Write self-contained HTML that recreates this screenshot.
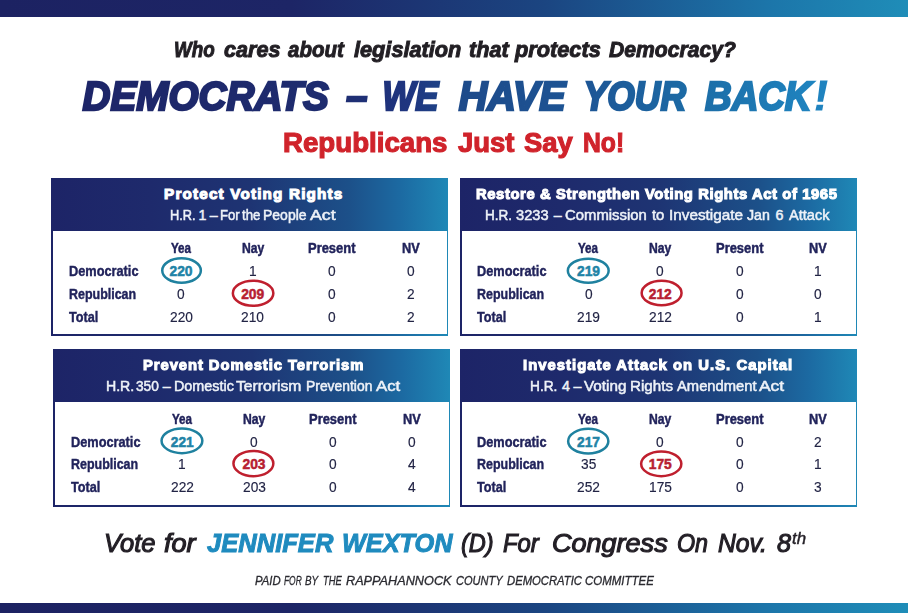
<!DOCTYPE html>
<html><head><meta charset="utf-8"><style>
html,body{margin:0;padding:0;}
body{width:908px;height:613px;position:relative;overflow:hidden;background:#fff;font-family:"Liberation Sans",sans-serif;}
.t{position:absolute;white-space:nowrap;line-height:1;transform-origin:0 0;}
.bar{position:absolute;left:0;width:908px;background:linear-gradient(90deg,#1c2262 0%,#1d2566 32%,#1b4581 60%,#1c76aa 85%,#1f8db8 100%);}
.hd{position:absolute;background:linear-gradient(90deg,#1d2467 0%,#1e2a6c 25%,#1e3473 50%,#1c5089 75%,#1c6aa2 88%,#1f88b6 100%);}
.bd{position:absolute;background:linear-gradient(90deg,#1d2467 0%,#1e2a6c 25%,#1e3473 50%,#1c5089 75%,#1c6aa2 88%,#1f88b6 100%);}
.bd i{position:absolute;left:1.5px;right:1.5px;top:0;bottom:1.5px;background:#fff;}
</style></head><body>
<div class="bar" style="top:0;height:16.5px"></div>
<div class="bar" style="top:602.5px;height:10.5px"></div>
<div class="t" style="left:173.50px;top:38.70px;font-size:22.38px;font-weight:700;font-style:italic;color:#221f24;transform:scaleX(0.8399);-webkit-text-stroke:1.0px #221f24;">Who</div>
<div class="t" style="left:223.70px;top:38.70px;font-size:22.38px;font-weight:700;font-style:italic;color:#221f24;transform:scaleX(0.9653);-webkit-text-stroke:1.0px #221f24;">cares</div>
<div class="t" style="left:287.60px;top:38.70px;font-size:22.38px;font-weight:700;font-style:italic;color:#221f24;transform:scaleX(0.9145);-webkit-text-stroke:1.0px #221f24;">about</div>
<div class="t" style="left:354.00px;top:38.70px;font-size:22.38px;font-weight:700;font-style:italic;color:#221f24;transform:scaleX(0.9703);-webkit-text-stroke:1.0px #221f24;">legislation</div>
<div class="t" style="left:469.40px;top:38.70px;font-size:22.38px;font-weight:700;font-style:italic;color:#221f24;transform:scaleX(0.9652);-webkit-text-stroke:1.0px #221f24;">that</div>
<div class="t" style="left:514.84px;top:38.70px;font-size:22.38px;font-weight:700;font-style:italic;color:#221f24;transform:scaleX(0.9712);-webkit-text-stroke:1.0px #221f24;">protects</div>
<div class="t" style="left:608.70px;top:38.70px;font-size:22.38px;font-weight:700;font-style:italic;color:#221f24;transform:scaleX(0.9448);-webkit-text-stroke:1.0px #221f24;">Democracy?</div>
<div class="t" style="left:73.20px;top:76.00px;font-size:40.70px;font-weight:700;font-style:italic;padding:0 10px;background:linear-gradient(90deg,#1d2568 9.3px,#1e2c6f 270.2px,#1f3580 354.4px,#1d4a8a 407.0px,#1d5595 538.5px,#1c6ea8 664.7px,#1f86c2 792.0px);-webkit-background-clip:text;background-clip:text;color:transparent;transform:scaleX(0.9505);-webkit-text-stroke:2.4px transparent;">DEMOCRATS</div>
<div class="t" style="left:336.56px;top:76.00px;font-size:40.70px;font-weight:700;font-style:italic;padding:0 10px;background:linear-gradient(90deg,#1d2568 -272.5px,#1e2c6f -7.0px,#1f3580 78.6px,#1d4a8a 132.1px,#1d5595 266.0px,#1c6ea8 394.4px,#1f86c2 523.9px);-webkit-background-clip:text;background-clip:text;color:transparent;transform:scaleX(0.9342);-webkit-text-stroke:2.4px transparent;">–</div>
<div class="t" style="left:374.39px;top:76.00px;font-size:40.70px;font-weight:700;font-style:italic;padding:0 10px;background:linear-gradient(90deg,#1d2568 -343.6px,#1e2c6f -52.2px,#1f3580 41.8px,#1d4a8a 100.6px,#1d5595 247.5px,#1c6ea8 388.5px,#1f86c2 530.7px);-webkit-background-clip:text;background-clip:text;color:transparent;transform:scaleX(0.8510);-webkit-text-stroke:2.4px transparent;">WE</div>
<div class="t" style="left:449.18px;top:76.00px;font-size:40.70px;font-weight:700;font-style:italic;padding:0 10px;background:linear-gradient(90deg,#1d2568 -377.7px,#1e2c6f -122.6px,#1f3580 -40.3px,#1d4a8a 11.1px,#1d5595 139.7px,#1c6ea8 263.2px,#1f86c2 387.7px);-webkit-background-clip:text;background-clip:text;color:transparent;transform:scaleX(0.9721);-webkit-text-stroke:2.4px transparent;">HAVE</div>
<div class="t" style="left:574.90px;top:76.00px;font-size:40.70px;font-weight:700;font-style:italic;padding:0 10px;background:linear-gradient(90deg,#1d2568 -566.7px,#1e2c6f -281.6px,#1f3580 -189.6px,#1d4a8a -132.1px,#1d5595 11.6px,#1c6ea8 149.6px,#1f86c2 288.7px);-webkit-background-clip:text;background-clip:text;color:transparent;transform:scaleX(0.8698);-webkit-text-stroke:2.4px transparent;">YOUR</div>
<div class="t" style="left:696.35px;top:76.00px;font-size:40.70px;font-weight:700;font-style:italic;padding:0 10px;background:linear-gradient(90deg,#1d2568 -678.5px,#1e2c6f -404.6px,#1f3580 -316.3px,#1d4a8a -261.0px,#1d5595 -123.0px,#1c6ea8 9.6px,#1f86c2 143.2px);-webkit-background-clip:text;background-clip:text;color:transparent;transform:scaleX(0.9054);-webkit-text-stroke:2.4px transparent;">BACK</div>
<div class="t" style="left:282.75px;top:129.75px;font-size:26.89px;font-weight:700;color:#d0232b;transform:scaleX(1.0290);-webkit-text-stroke:1.1px #d0232b;">Republicans</div>
<div class="t" style="left:457.85px;top:129.75px;font-size:26.89px;font-weight:700;color:#d0232b;transform:scaleX(1.0207);-webkit-text-stroke:1.1px #d0232b;">Just</div>
<div class="t" style="left:523.95px;top:129.75px;font-size:26.89px;font-weight:700;color:#d0232b;transform:scaleX(1.0196);-webkit-text-stroke:1.1px #d0232b;">Say</div>
<div class="t" style="left:582.95px;top:129.75px;font-size:26.89px;font-weight:700;color:#d0232b;transform:scaleX(0.9202);-webkit-text-stroke:1.1px #d0232b;">No!</div>
<div class="bd" style="left:51px;top:231.4px;width:397.0px;height:104.4px"><i></i></div>
<div class="hd" style="left:51px;top:178px;width:397px;height:53.4px"></div>
<div class="t" style="left:164.05px;top:186.35px;font-size:15.26px;font-weight:700;color:#ffffff;letter-spacing:1.175px;-webkit-text-stroke:1.1px #ffffff;">Protect Voting Rights</div>
<div class="t" style="left:169.55px;top:207.95px;font-size:14.24px;font-weight:400;color:#eef2f8;transform:scaleX(0.8986);-webkit-text-stroke:0.5px #eef2f8;">H.R.</div>
<div class="t" style="left:198.55px;top:207.95px;font-size:14.24px;font-weight:400;color:#eef2f8;-webkit-text-stroke:0.5px #eef2f8;">1</div>
<div class="t" style="left:209.86px;top:207.95px;font-size:14.24px;font-weight:400;color:#eef2f8;-webkit-text-stroke:0.5px #eef2f8;">–</div>
<div class="t" style="left:220.05px;top:207.95px;font-size:14.24px;font-weight:400;color:#eef2f8;transform:scaleX(0.9220);-webkit-text-stroke:0.5px #eef2f8;">For</div>
<div class="t" style="left:241.85px;top:207.95px;font-size:14.24px;font-weight:400;color:#eef2f8;transform:scaleX(0.9293);-webkit-text-stroke:0.5px #eef2f8;">the</div>
<div class="t" style="left:262.65px;top:207.95px;font-size:14.24px;font-weight:400;color:#eef2f8;transform:scaleX(0.9826);-webkit-text-stroke:0.5px #eef2f8;">People</div>
<div class="t" style="left:310.25px;top:207.95px;font-size:14.24px;font-weight:400;color:#eef2f8;transform:scaleX(1.2486);-webkit-text-stroke:0.5px #eef2f8;">Act</div>
<div class="t" style="left:170.93px;top:240.78px;font-size:14.03px;font-weight:700;color:#21235b;transform:scaleX(0.8280);-webkit-text-stroke:0.45px #21235b;">Yea</div>
<div class="t" style="left:241.52px;top:240.78px;font-size:14.03px;font-weight:700;color:#21235b;transform:scaleX(0.8684);-webkit-text-stroke:0.45px #21235b;">Nay</div>
<div class="t" style="left:307.93px;top:240.78px;font-size:14.03px;font-weight:700;color:#21235b;transform:scaleX(0.9237);-webkit-text-stroke:0.45px #21235b;">Present</div>
<div class="t" style="left:401.93px;top:240.78px;font-size:14.03px;font-weight:700;color:#21235b;transform:scaleX(0.9104);-webkit-text-stroke:0.45px #21235b;">NV</div>
<div class="t" style="left:69.45px;top:263.80px;font-size:14.24px;font-weight:700;color:#21235b;transform:scaleX(0.8961);-webkit-text-stroke:0.4px #21235b;">Democratic</div>
<div class="t" style="left:169.47px;top:264.75px;font-size:13.81px;font-weight:700;color:#2183a6;-webkit-text-stroke:0.5px #2183a6;">220</div>
<div class="t" style="left:248.89px;top:263.93px;font-size:14.46px;font-weight:400;color:#222445;transform:scaleX(0.9500);-webkit-text-stroke:0.15px #222445;">1</div>
<div class="t" style="left:327.89px;top:263.93px;font-size:14.46px;font-weight:400;color:#222445;transform:scaleX(0.9500);-webkit-text-stroke:0.15px #222445;">0</div>
<div class="t" style="left:406.99px;top:263.93px;font-size:14.46px;font-weight:400;color:#222445;transform:scaleX(0.9500);-webkit-text-stroke:0.15px #222445;">0</div>
<div class="t" style="left:69.45px;top:286.80px;font-size:14.24px;font-weight:700;color:#21235b;transform:scaleX(0.8753);-webkit-text-stroke:0.4px #21235b;">Republican</div>
<div class="t" style="left:177.19px;top:286.93px;font-size:14.46px;font-weight:400;color:#222445;transform:scaleX(0.9500);-webkit-text-stroke:0.15px #222445;">0</div>
<div class="t" style="left:241.17px;top:287.75px;font-size:13.81px;font-weight:700;color:#b71e31;-webkit-text-stroke:0.5px #b71e31;">209</div>
<div class="t" style="left:327.89px;top:286.93px;font-size:14.46px;font-weight:400;color:#222445;transform:scaleX(0.9500);-webkit-text-stroke:0.15px #222445;">0</div>
<div class="t" style="left:406.99px;top:286.93px;font-size:14.46px;font-weight:400;color:#222445;transform:scaleX(0.9500);-webkit-text-stroke:0.15px #222445;">2</div>
<div class="t" style="left:69.45px;top:309.80px;font-size:14.24px;font-weight:700;color:#21235b;transform:scaleX(0.8885);-webkit-text-stroke:0.4px #21235b;">Total</div>
<div class="t" style="left:169.53px;top:309.93px;font-size:14.46px;font-weight:400;color:#222445;transform:scaleX(0.9500);-webkit-text-stroke:0.15px #222445;">220</div>
<div class="t" style="left:241.23px;top:309.93px;font-size:14.46px;font-weight:400;color:#222445;transform:scaleX(0.9500);-webkit-text-stroke:0.15px #222445;">210</div>
<div class="t" style="left:327.89px;top:309.93px;font-size:14.46px;font-weight:400;color:#222445;transform:scaleX(0.9500);-webkit-text-stroke:0.15px #222445;">0</div>
<div class="t" style="left:406.99px;top:309.93px;font-size:14.46px;font-weight:400;color:#222445;transform:scaleX(0.9500);-webkit-text-stroke:0.15px #222445;">2</div>
<div class="bd" style="left:460px;top:231.4px;width:397.0px;height:104.4px"><i></i></div>
<div class="hd" style="left:460px;top:178px;width:397px;height:53.4px"></div>
<div class="t" style="left:476.45px;top:186.35px;font-size:15.26px;font-weight:700;color:#ffffff;transform:scaleX(0.9700);letter-spacing:0.624px;-webkit-text-stroke:1.1px #ffffff;">Restore &amp; Strengthen Voting Rights Act of 1965</div>
<div class="t" style="left:485.15px;top:207.95px;font-size:14.24px;font-weight:400;color:#eef2f8;transform:scaleX(0.9478);-webkit-text-stroke:0.5px #eef2f8;">H.R.</div>
<div class="t" style="left:516.25px;top:207.95px;font-size:14.24px;font-weight:400;color:#eef2f8;transform:scaleX(1.0286);-webkit-text-stroke:0.5px #eef2f8;">3233</div>
<div class="t" style="left:553.76px;top:207.95px;font-size:14.24px;font-weight:400;color:#eef2f8;-webkit-text-stroke:0.5px #eef2f8;">–</div>
<div class="t" style="left:565.15px;top:207.95px;font-size:14.24px;font-weight:400;color:#eef2f8;transform:scaleX(1.0441);-webkit-text-stroke:0.5px #eef2f8;">Commission</div>
<div class="t" style="left:651.85px;top:207.95px;font-size:14.24px;font-weight:400;color:#eef2f8;transform:scaleX(1.0426);-webkit-text-stroke:0.5px #eef2f8;">to</div>
<div class="t" style="left:668.65px;top:207.95px;font-size:14.24px;font-weight:400;color:#eef2f8;transform:scaleX(1.0759);-webkit-text-stroke:0.5px #eef2f8;">Investigate</div>
<div class="t" style="left:747.05px;top:207.95px;font-size:14.24px;font-weight:400;color:#eef2f8;transform:scaleX(0.9986);-webkit-text-stroke:0.5px #eef2f8;">Jan</div>
<div class="t" style="left:775.50px;top:207.95px;font-size:14.24px;font-weight:400;color:#eef2f8;-webkit-text-stroke:0.5px #eef2f8;">6</div>
<div class="t" style="left:788.95px;top:207.95px;font-size:14.24px;font-weight:400;color:#eef2f8;transform:scaleX(1.0234);-webkit-text-stroke:0.5px #eef2f8;">Attack</div>
<div class="t" style="left:578.42px;top:240.78px;font-size:14.03px;font-weight:700;color:#21235b;transform:scaleX(0.8280);-webkit-text-stroke:0.45px #21235b;">Yea</div>
<div class="t" style="left:649.12px;top:240.78px;font-size:14.03px;font-weight:700;color:#21235b;transform:scaleX(0.8684);-webkit-text-stroke:0.45px #21235b;">Nay</div>
<div class="t" style="left:715.73px;top:240.78px;font-size:14.03px;font-weight:700;color:#21235b;transform:scaleX(0.9237);-webkit-text-stroke:0.45px #21235b;">Present</div>
<div class="t" style="left:809.23px;top:240.78px;font-size:14.03px;font-weight:700;color:#21235b;transform:scaleX(0.9104);-webkit-text-stroke:0.45px #21235b;">NV</div>
<div class="t" style="left:477.20px;top:263.80px;font-size:14.24px;font-weight:700;color:#21235b;transform:scaleX(0.8961);-webkit-text-stroke:0.4px #21235b;">Democratic</div>
<div class="t" style="left:576.97px;top:264.75px;font-size:13.81px;font-weight:700;color:#2183a6;-webkit-text-stroke:0.5px #2183a6;">219</div>
<div class="t" style="left:656.49px;top:263.93px;font-size:14.46px;font-weight:400;color:#222445;transform:scaleX(0.9500);-webkit-text-stroke:0.15px #222445;">0</div>
<div class="t" style="left:735.69px;top:263.93px;font-size:14.46px;font-weight:400;color:#222445;transform:scaleX(0.9500);-webkit-text-stroke:0.15px #222445;">0</div>
<div class="t" style="left:814.29px;top:263.93px;font-size:14.46px;font-weight:400;color:#222445;transform:scaleX(0.9500);-webkit-text-stroke:0.15px #222445;">1</div>
<div class="t" style="left:477.20px;top:286.80px;font-size:14.24px;font-weight:700;color:#21235b;transform:scaleX(0.8753);-webkit-text-stroke:0.4px #21235b;">Republican</div>
<div class="t" style="left:584.69px;top:286.93px;font-size:14.46px;font-weight:400;color:#222445;transform:scaleX(0.9500);-webkit-text-stroke:0.15px #222445;">0</div>
<div class="t" style="left:648.77px;top:287.75px;font-size:13.81px;font-weight:700;color:#b71e31;-webkit-text-stroke:0.5px #b71e31;">212</div>
<div class="t" style="left:735.69px;top:286.93px;font-size:14.46px;font-weight:400;color:#222445;transform:scaleX(0.9500);-webkit-text-stroke:0.15px #222445;">0</div>
<div class="t" style="left:814.29px;top:286.93px;font-size:14.46px;font-weight:400;color:#222445;transform:scaleX(0.9500);-webkit-text-stroke:0.15px #222445;">0</div>
<div class="t" style="left:477.20px;top:309.80px;font-size:14.24px;font-weight:700;color:#21235b;transform:scaleX(0.8885);-webkit-text-stroke:0.4px #21235b;">Total</div>
<div class="t" style="left:577.03px;top:309.93px;font-size:14.46px;font-weight:400;color:#222445;transform:scaleX(0.9500);-webkit-text-stroke:0.15px #222445;">219</div>
<div class="t" style="left:648.83px;top:309.93px;font-size:14.46px;font-weight:400;color:#222445;transform:scaleX(0.9500);-webkit-text-stroke:0.15px #222445;">212</div>
<div class="t" style="left:735.69px;top:309.93px;font-size:14.46px;font-weight:400;color:#222445;transform:scaleX(0.9500);-webkit-text-stroke:0.15px #222445;">0</div>
<div class="t" style="left:814.29px;top:309.93px;font-size:14.46px;font-weight:400;color:#222445;transform:scaleX(0.9500);-webkit-text-stroke:0.15px #222445;">1</div>
<div class="bd" style="left:53px;top:401.5px;width:397.0px;height:105.0px"><i></i></div>
<div class="hd" style="left:53px;top:349px;width:397px;height:52.5px"></div>
<div class="t" style="left:142.75px;top:357.35px;font-size:15.26px;font-weight:700;color:#ffffff;transform:scaleX(0.9700);letter-spacing:0.961px;-webkit-text-stroke:1.1px #ffffff;">Prevent Domestic Terrorism</div>
<div class="t" style="left:105.75px;top:378.95px;font-size:14.24px;font-weight:400;color:#eef2f8;transform:scaleX(0.9899);-webkit-text-stroke:0.5px #eef2f8;">H.R.</div>
<div class="t" style="left:135.65px;top:378.95px;font-size:14.24px;font-weight:400;color:#eef2f8;transform:scaleX(0.9627);-webkit-text-stroke:0.5px #eef2f8;">350</div>
<div class="t" style="left:162.81px;top:378.95px;font-size:14.24px;font-weight:400;color:#eef2f8;-webkit-text-stroke:0.5px #eef2f8;">–</div>
<div class="t" style="left:173.55px;top:378.95px;font-size:14.24px;font-weight:400;color:#eef2f8;transform:scaleX(1.0084);-webkit-text-stroke:0.5px #eef2f8;">Domestic</div>
<div class="t" style="left:236.45px;top:378.95px;font-size:14.24px;font-weight:400;color:#eef2f8;transform:scaleX(1.1024);-webkit-text-stroke:0.5px #eef2f8;">Terrorism</div>
<div class="t" style="left:305.85px;top:378.95px;font-size:14.24px;font-weight:400;color:#eef2f8;transform:scaleX(0.9752);-webkit-text-stroke:0.5px #eef2f8;">Prevention</div>
<div class="t" style="left:376.25px;top:378.95px;font-size:14.24px;font-weight:400;color:#eef2f8;transform:scaleX(1.1806);-webkit-text-stroke:0.5px #eef2f8;">Act</div>
<div class="t" style="left:172.23px;top:411.77px;font-size:14.03px;font-weight:700;color:#21235b;transform:scaleX(0.8280);-webkit-text-stroke:0.45px #21235b;">Yea</div>
<div class="t" style="left:242.82px;top:411.77px;font-size:14.03px;font-weight:700;color:#21235b;transform:scaleX(0.8684);-webkit-text-stroke:0.45px #21235b;">Nay</div>
<div class="t" style="left:309.23px;top:411.77px;font-size:14.03px;font-weight:700;color:#21235b;transform:scaleX(0.9237);-webkit-text-stroke:0.45px #21235b;">Present</div>
<div class="t" style="left:402.93px;top:411.77px;font-size:14.03px;font-weight:700;color:#21235b;transform:scaleX(0.9104);-webkit-text-stroke:0.45px #21235b;">NV</div>
<div class="t" style="left:70.60px;top:434.80px;font-size:14.24px;font-weight:700;color:#21235b;transform:scaleX(0.8961);-webkit-text-stroke:0.4px #21235b;">Democratic</div>
<div class="t" style="left:170.77px;top:435.75px;font-size:13.81px;font-weight:700;color:#2183a6;-webkit-text-stroke:0.5px #2183a6;">221</div>
<div class="t" style="left:250.19px;top:434.93px;font-size:14.46px;font-weight:400;color:#222445;transform:scaleX(0.9500);-webkit-text-stroke:0.15px #222445;">0</div>
<div class="t" style="left:329.19px;top:434.93px;font-size:14.46px;font-weight:400;color:#222445;transform:scaleX(0.9500);-webkit-text-stroke:0.15px #222445;">0</div>
<div class="t" style="left:407.99px;top:434.93px;font-size:14.46px;font-weight:400;color:#222445;transform:scaleX(0.9500);-webkit-text-stroke:0.15px #222445;">0</div>
<div class="t" style="left:70.60px;top:456.80px;font-size:14.24px;font-weight:700;color:#21235b;transform:scaleX(0.8753);-webkit-text-stroke:0.4px #21235b;">Republican</div>
<div class="t" style="left:178.49px;top:456.93px;font-size:14.46px;font-weight:400;color:#222445;transform:scaleX(0.9500);-webkit-text-stroke:0.15px #222445;">1</div>
<div class="t" style="left:242.47px;top:457.75px;font-size:13.81px;font-weight:700;color:#b71e31;-webkit-text-stroke:0.5px #b71e31;">203</div>
<div class="t" style="left:329.19px;top:456.93px;font-size:14.46px;font-weight:400;color:#222445;transform:scaleX(0.9500);-webkit-text-stroke:0.15px #222445;">0</div>
<div class="t" style="left:407.99px;top:456.93px;font-size:14.46px;font-weight:400;color:#222445;transform:scaleX(0.9500);-webkit-text-stroke:0.15px #222445;">4</div>
<div class="t" style="left:70.60px;top:479.60px;font-size:14.24px;font-weight:700;color:#21235b;transform:scaleX(0.8885);-webkit-text-stroke:0.4px #21235b;">Total</div>
<div class="t" style="left:170.83px;top:479.73px;font-size:14.46px;font-weight:400;color:#222445;transform:scaleX(0.9500);-webkit-text-stroke:0.15px #222445;">222</div>
<div class="t" style="left:242.53px;top:479.73px;font-size:14.46px;font-weight:400;color:#222445;transform:scaleX(0.9500);-webkit-text-stroke:0.15px #222445;">203</div>
<div class="t" style="left:329.19px;top:479.73px;font-size:14.46px;font-weight:400;color:#222445;transform:scaleX(0.9500);-webkit-text-stroke:0.15px #222445;">0</div>
<div class="t" style="left:407.99px;top:479.73px;font-size:14.46px;font-weight:400;color:#222445;transform:scaleX(0.9500);-webkit-text-stroke:0.15px #222445;">4</div>
<div class="bd" style="left:460px;top:401.5px;width:397.0px;height:105.0px"><i></i></div>
<div class="hd" style="left:460px;top:349px;width:397px;height:52.5px"></div>
<div class="t" style="left:522.75px;top:357.35px;font-size:15.26px;font-weight:700;color:#ffffff;transform:scaleX(0.9700);letter-spacing:1.077px;-webkit-text-stroke:1.1px #ffffff;">Investigate Attack on U.S. Capital</div>
<div class="t" style="left:530.45px;top:378.95px;font-size:14.24px;font-weight:400;color:#eef2f8;transform:scaleX(0.9618);-webkit-text-stroke:0.5px #eef2f8;">H.R.</div>
<div class="t" style="left:561.90px;top:378.95px;font-size:14.24px;font-weight:400;color:#eef2f8;-webkit-text-stroke:0.5px #eef2f8;">4</div>
<div class="t" style="left:573.46px;top:378.95px;font-size:14.24px;font-weight:400;color:#eef2f8;-webkit-text-stroke:0.5px #eef2f8;">–</div>
<div class="t" style="left:583.95px;top:378.95px;font-size:14.24px;font-weight:400;color:#eef2f8;transform:scaleX(1.0733);-webkit-text-stroke:0.5px #eef2f8;">Voting</div>
<div class="t" style="left:630.15px;top:378.95px;font-size:14.24px;font-weight:400;color:#eef2f8;transform:scaleX(1.0648);-webkit-text-stroke:0.5px #eef2f8;">Rights</div>
<div class="t" style="left:676.95px;top:378.95px;font-size:14.24px;font-weight:400;color:#eef2f8;transform:scaleX(1.0368);-webkit-text-stroke:0.5px #eef2f8;">Amendment</div>
<div class="t" style="left:759.35px;top:378.95px;font-size:14.24px;font-weight:400;color:#eef2f8;transform:scaleX(1.2243);-webkit-text-stroke:0.5px #eef2f8;">Act</div>
<div class="t" style="left:578.42px;top:411.77px;font-size:14.03px;font-weight:700;color:#21235b;transform:scaleX(0.8280);-webkit-text-stroke:0.45px #21235b;">Yea</div>
<div class="t" style="left:649.12px;top:411.77px;font-size:14.03px;font-weight:700;color:#21235b;transform:scaleX(0.8684);-webkit-text-stroke:0.45px #21235b;">Nay</div>
<div class="t" style="left:715.73px;top:411.77px;font-size:14.03px;font-weight:700;color:#21235b;transform:scaleX(0.9237);-webkit-text-stroke:0.45px #21235b;">Present</div>
<div class="t" style="left:809.23px;top:411.77px;font-size:14.03px;font-weight:700;color:#21235b;transform:scaleX(0.9104);-webkit-text-stroke:0.45px #21235b;">NV</div>
<div class="t" style="left:477.20px;top:434.80px;font-size:14.24px;font-weight:700;color:#21235b;transform:scaleX(0.8961);-webkit-text-stroke:0.4px #21235b;">Democratic</div>
<div class="t" style="left:576.97px;top:435.75px;font-size:13.81px;font-weight:700;color:#2183a6;-webkit-text-stroke:0.5px #2183a6;">217</div>
<div class="t" style="left:656.49px;top:434.93px;font-size:14.46px;font-weight:400;color:#222445;transform:scaleX(0.9500);-webkit-text-stroke:0.15px #222445;">0</div>
<div class="t" style="left:735.69px;top:434.93px;font-size:14.46px;font-weight:400;color:#222445;transform:scaleX(0.9500);-webkit-text-stroke:0.15px #222445;">0</div>
<div class="t" style="left:814.29px;top:434.93px;font-size:14.46px;font-weight:400;color:#222445;transform:scaleX(0.9500);-webkit-text-stroke:0.15px #222445;">2</div>
<div class="t" style="left:477.20px;top:456.80px;font-size:14.24px;font-weight:700;color:#21235b;transform:scaleX(0.8753);-webkit-text-stroke:0.4px #21235b;">Republican</div>
<div class="t" style="left:580.87px;top:456.93px;font-size:14.46px;font-weight:400;color:#222445;transform:scaleX(0.9500);-webkit-text-stroke:0.15px #222445;">35</div>
<div class="t" style="left:648.77px;top:457.75px;font-size:13.81px;font-weight:700;color:#b71e31;-webkit-text-stroke:0.5px #b71e31;">175</div>
<div class="t" style="left:735.69px;top:456.93px;font-size:14.46px;font-weight:400;color:#222445;transform:scaleX(0.9500);-webkit-text-stroke:0.15px #222445;">0</div>
<div class="t" style="left:814.29px;top:456.93px;font-size:14.46px;font-weight:400;color:#222445;transform:scaleX(0.9500);-webkit-text-stroke:0.15px #222445;">1</div>
<div class="t" style="left:477.20px;top:479.60px;font-size:14.24px;font-weight:700;color:#21235b;transform:scaleX(0.8885);-webkit-text-stroke:0.4px #21235b;">Total</div>
<div class="t" style="left:577.03px;top:479.73px;font-size:14.46px;font-weight:400;color:#222445;transform:scaleX(0.9500);-webkit-text-stroke:0.15px #222445;">252</div>
<div class="t" style="left:648.83px;top:479.73px;font-size:14.46px;font-weight:400;color:#222445;transform:scaleX(0.9500);-webkit-text-stroke:0.15px #222445;">175</div>
<div class="t" style="left:735.69px;top:479.73px;font-size:14.46px;font-weight:400;color:#222445;transform:scaleX(0.9500);-webkit-text-stroke:0.15px #222445;">0</div>
<div class="t" style="left:814.29px;top:479.73px;font-size:14.46px;font-weight:400;color:#222445;transform:scaleX(0.9500);-webkit-text-stroke:0.15px #222445;">3</div>
<svg style="position:absolute;left:0;top:0" width="908" height="613"><ellipse cx="181.55" cy="270.55" rx="19.30" ry="12.20" fill="none" stroke="#1f819f" stroke-width="2.5"/><ellipse cx="253.1" cy="293.3" rx="20.25" ry="12.55" fill="none" stroke="#bf1f2e" stroke-width="2.5"/><ellipse cx="588.25" cy="270.65" rx="20.40" ry="12.00" fill="none" stroke="#1f819f" stroke-width="2.5"/><ellipse cx="661.6" cy="292.95" rx="19.95" ry="12.20" fill="none" stroke="#bf1f2e" stroke-width="2.5"/><ellipse cx="181.95" cy="440.8" rx="20.40" ry="12.35" fill="none" stroke="#1f819f" stroke-width="2.5"/><ellipse cx="253.4" cy="463.55" rx="19.95" ry="12.60" fill="none" stroke="#bf1f2e" stroke-width="2.5"/><ellipse cx="588.25" cy="441.15" rx="20.10" ry="12.30" fill="none" stroke="#1f819f" stroke-width="2.5"/><ellipse cx="661.25" cy="463.8" rx="20.10" ry="12.35" fill="none" stroke="#bf1f2e" stroke-width="2.5"/><polygon points="820.1,80.5 827.6,80.5 823.0,101.7 817.5,101.7" fill="#1f83bf"/><polygon points="816.7,104.8 823.3,104.8 822.2,110.6 815.4,110.6" fill="#1f83bf"/></svg>
<div class="t" style="left:104.17px;top:530.02px;font-size:26.24px;font-weight:400;font-style:italic;color:#231f26;transform:scaleX(0.9727);-webkit-text-stroke:1.15px #231f26;">Vote</div>
<div class="t" style="left:164.28px;top:530.02px;font-size:26.24px;font-weight:400;font-style:italic;color:#231f26;transform:scaleX(1.0328);-webkit-text-stroke:1.15px #231f26;">for</div>
<div class="t" style="left:461.38px;top:530.02px;font-size:26.24px;font-weight:400;font-style:italic;color:#231f26;transform:scaleX(0.8981);-webkit-text-stroke:1.15px #231f26;">(D)</div>
<div class="t" style="left:503.38px;top:530.02px;font-size:26.24px;font-weight:400;font-style:italic;color:#231f26;transform:scaleX(0.9101);-webkit-text-stroke:1.15px #231f26;">For</div>
<div class="t" style="left:551.67px;top:530.02px;font-size:26.24px;font-weight:400;font-style:italic;color:#231f26;transform:scaleX(1.0299);-webkit-text-stroke:1.15px #231f26;">Congress</div>
<div class="t" style="left:676.98px;top:530.02px;font-size:26.24px;font-weight:400;font-style:italic;color:#231f26;transform:scaleX(0.8865);-webkit-text-stroke:1.15px #231f26;">On</div>
<div class="t" style="left:717.67px;top:530.02px;font-size:26.24px;font-weight:400;font-style:italic;color:#231f26;transform:scaleX(0.9385);-webkit-text-stroke:1.15px #231f26;">Nov.</div>
<div class="t" style="left:777.48px;top:530.02px;font-size:26.24px;font-weight:400;font-style:italic;color:#231f26;transform:scaleX(0.9581);-webkit-text-stroke:1.15px #231f26;">8</div>
<div class="t" style="left:207.00px;top:530.10px;font-size:26.45px;font-weight:700;font-style:italic;color:#1f8bbf;transform:scaleX(0.9663);-webkit-text-stroke:1.0px #1f8bbf;">JENNIFER</div>
<div class="t" style="left:341.60px;top:530.10px;font-size:26.45px;font-weight:700;font-style:italic;color:#1f8bbf;transform:scaleX(0.9567);-webkit-text-stroke:1.0px #1f8bbf;">WEXTON</div>
<div class="t" style="left:792.32px;top:530.77px;font-size:15.84px;font-weight:400;font-style:italic;color:#231f26;transform:scaleX(1.0621);-webkit-text-stroke:0.45px #231f26;">th</div>
<div class="t" style="left:254.55px;top:575.85px;font-size:11.92px;font-weight:400;font-style:italic;color:#2a2a30;transform:scaleX(0.9504);-webkit-text-stroke:0.3px #2a2a30;">PAID</div>
<div class="t" style="left:284.15px;top:575.85px;font-size:11.92px;font-weight:400;font-style:italic;color:#2a2a30;transform:scaleX(0.7038);-webkit-text-stroke:0.3px #2a2a30;">FOR</div>
<div class="t" style="left:304.95px;top:575.85px;font-size:11.92px;font-weight:400;font-style:italic;color:#2a2a30;transform:scaleX(0.8300);-webkit-text-stroke:0.3px #2a2a30;">BY</div>
<div class="t" style="left:322.95px;top:575.85px;font-size:11.92px;font-weight:400;font-style:italic;color:#2a2a30;transform:scaleX(0.7911);-webkit-text-stroke:0.3px #2a2a30;">THE</div>
<div class="t" style="left:346.15px;top:575.85px;font-size:11.92px;font-weight:400;font-style:italic;color:#2a2a30;transform:scaleX(1.0655);-webkit-text-stroke:0.3px #2a2a30;">RAPPAHANNOCK</div>
<div class="t" style="left:456.35px;top:575.85px;font-size:11.92px;font-weight:400;font-style:italic;color:#2a2a30;transform:scaleX(0.9281);-webkit-text-stroke:0.3px #2a2a30;">COUNTY</div>
<div class="t" style="left:506.85px;top:575.85px;font-size:11.92px;font-weight:400;font-style:italic;color:#2a2a30;transform:scaleX(0.9468);-webkit-text-stroke:0.3px #2a2a30;">DEMOCRATIC</div>
<div class="t" style="left:584.75px;top:575.85px;font-size:11.92px;font-weight:400;font-style:italic;color:#2a2a30;transform:scaleX(0.9639);-webkit-text-stroke:0.3px #2a2a30;">COMMITTEE</div>
</body></html>
